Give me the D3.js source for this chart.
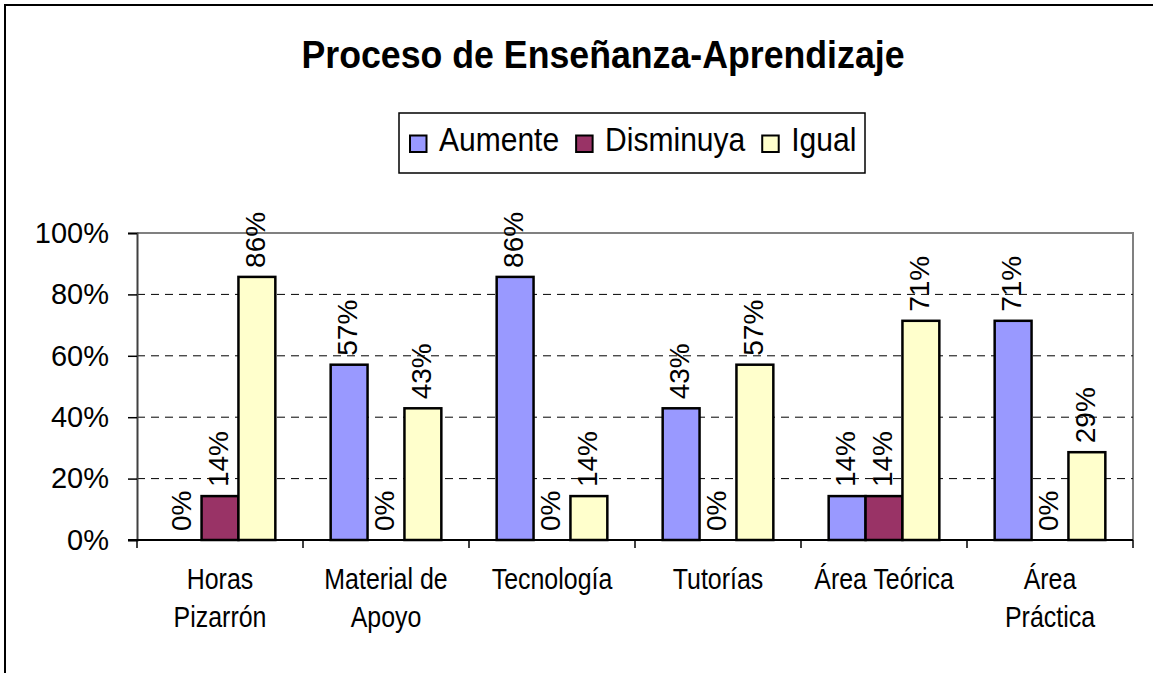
<!DOCTYPE html>
<html><head><meta charset="utf-8">
<script src="https://cdn.jsdelivr.net/npm/d3@7"></script>
<style>
body{margin:0;background:#fff;}
svg{display:block;font-family:"Liberation Sans",Arial,sans-serif;}
</style></head>
<body>
<svg id="chart" width="1153" height="673"></svg>
<script>
const categories = [["Horas","Pizarrón"],["Material de","Apoyo"],["Tecnología"],["Tutorías"],["Área Teórica"],["Área","Práctica"]];
const seriesNames = ["Aumente","Disminuya","Igual"];
const aumente   = [0, 0.571, 0.857, 0.429, 0.143, 0.714];
const disminuya = [0.143, 0, 0, 0, 0.143, 0];
const igual     = [0.857, 0.429, 0.143, 0.571, 0.714, 0.286];
const colors = ["#9999FF","#993366","#FFFFCC"];
const yTicks = [0,0.2,0.4,0.6,0.8,1.0];
const title = "Proceso de Enseñanza-Aprendizaje";

(function(){
const series = [aumente, disminuya, igual];
const svg = d3.select("#chart");
const W = 1153, H = 673;

// outer frame
svg.append("rect").attr("x",5).attr("y",5).attr("width",W+10).attr("height",H+10)
  .attr("fill","#fff").attr("stroke","#000").attr("stroke-width",2);

// title
svg.append("text").attr("x",603).attr("y",68).attr("text-anchor","middle")
  .attr("font-size",39).attr("font-weight","bold")
  .attr("textLength",603).attr("lengthAdjust","spacingAndGlyphs").text(title);

const pl = 137, pr = 1133, pt = 233, pb = 540;
const x0 = d3.scaleBand().domain(d3.range(categories.length)).range([pl,pr]).paddingInner(0).paddingOuter(0);
const x1 = d3.scaleBand().domain(d3.range(seriesNames.length)).range([0,x0.bandwidth()]).paddingOuter(0.75).paddingInner(0);
const y = d3.scaleLinear().domain([0,1]).range([pb,pt]);

// plot border (gray)
svg.append("path").attr("d",`M${pl},${pt}H${pr}V${pb}`).attr("fill","none").attr("stroke","#808080").attr("stroke-width",2);

// gridlines
svg.append("g").selectAll("line").data(yTicks.filter(d=>d>0&&d<1)).join("line")
  .attr("x1",pl).attr("x2",pr).attr("y1",d=>y(d)).attr("y2",d=>y(d))
  .attr("stroke","#000").attr("stroke-width",1).attr("stroke-dasharray","8,6");

// y axis
const yAxis = svg.append("g").attr("transform",`translate(${pl},0)`)
  .call(d3.axisLeft(y).tickValues(yTicks).tickFormat(d3.format(".0%")).tickSize(9).tickPadding(19));
yAxis.select(".domain").attr("stroke","#404040").attr("stroke-width",2);
yAxis.selectAll(".tick line").attr("stroke","#000").attr("stroke-width",1.5);
yAxis.selectAll("text").attr("font-size",29).attr("font-family","Liberation Sans, Arial, sans-serif").attr("fill","#000");

// bars
const groups = svg.append("g").selectAll("g").data(categories).join("g")
  .attr("transform",(d,i)=>`translate(${x0(i)},0)`);
groups.selectAll("rect").data((d,i)=>series.map((s,j)=>({j,v:s[i]}))).join("rect")
  .attr("x",d=>x1(d.j)).attr("width",x1.bandwidth())
  .attr("y",d=>y(d.v)).attr("height",d=>pb-y(d.v))
  .attr("fill",d=>colors[d.j]).attr("stroke",d=>d.v>0?"#000":"none").attr("stroke-width",2.5);
groups.selectAll("text.lbl").data((d,i)=>series.map((s,j)=>({j,v:s[i]}))).join("text")
  .attr("class","lbl")
  .attr("transform",d=>`translate(${x1(d.j)+x1.bandwidth()/2-1.5},${y(d.v)-9}) rotate(-90)`)
  .attr("dominant-baseline","central").attr("font-size",28).text(d=>d3.format(".0%")(d.v));

// x axis
const xAxisG = svg.append("g");
xAxisG.append("line").attr("x1",pl-9).attr("x2",pr).attr("y1",pb).attr("y2",pb).attr("stroke","#000").attr("stroke-width",2);
xAxisG.selectAll("line.t").data(d3.range(categories.length+1)).join("line").attr("class","t")
  .attr("x1",i=>pl+i*x0.bandwidth()).attr("x2",i=>pl+i*x0.bandwidth())
  .attr("y1",pb).attr("y2",pb+8).attr("stroke","#000").attr("stroke-width",1.5);
const xl = xAxisG.selectAll("text").data(categories).join("text")
  .attr("transform",(d,i)=>`translate(${x0(i)+x0.bandwidth()/2},589) scale(0.86,1)`)
  .attr("text-anchor","middle").attr("font-size",29);
xl.selectAll("tspan").data(d=>d).join("tspan")
  .attr("x",0).attr("dy",(d,i)=>i===0?0:38).text(d=>d);

// legend
const leg = svg.append("g");
leg.append("rect").attr("x",399).attr("y",113).attr("width",466).attr("height",60)
  .attr("fill","#fff").attr("stroke","#000").attr("stroke-width",1.5);
let lx = 410;
const sx = 0.91;
seriesNames.forEach((n,j)=>{
  leg.append("rect").attr("x",lx).attr("y",135.5).attr("width",16.5).attr("height",16.5)
    .attr("fill",colors[j]).attr("stroke","#000").attr("stroke-width",2);
  const t = leg.append("text").attr("transform",`translate(${lx+29},151) scale(${sx},1)`)
    .attr("font-size",33).text(n);
  lx += 29 + t.node().getComputedTextLength()*sx + 17;
});
})();
</script>
</body></html>
